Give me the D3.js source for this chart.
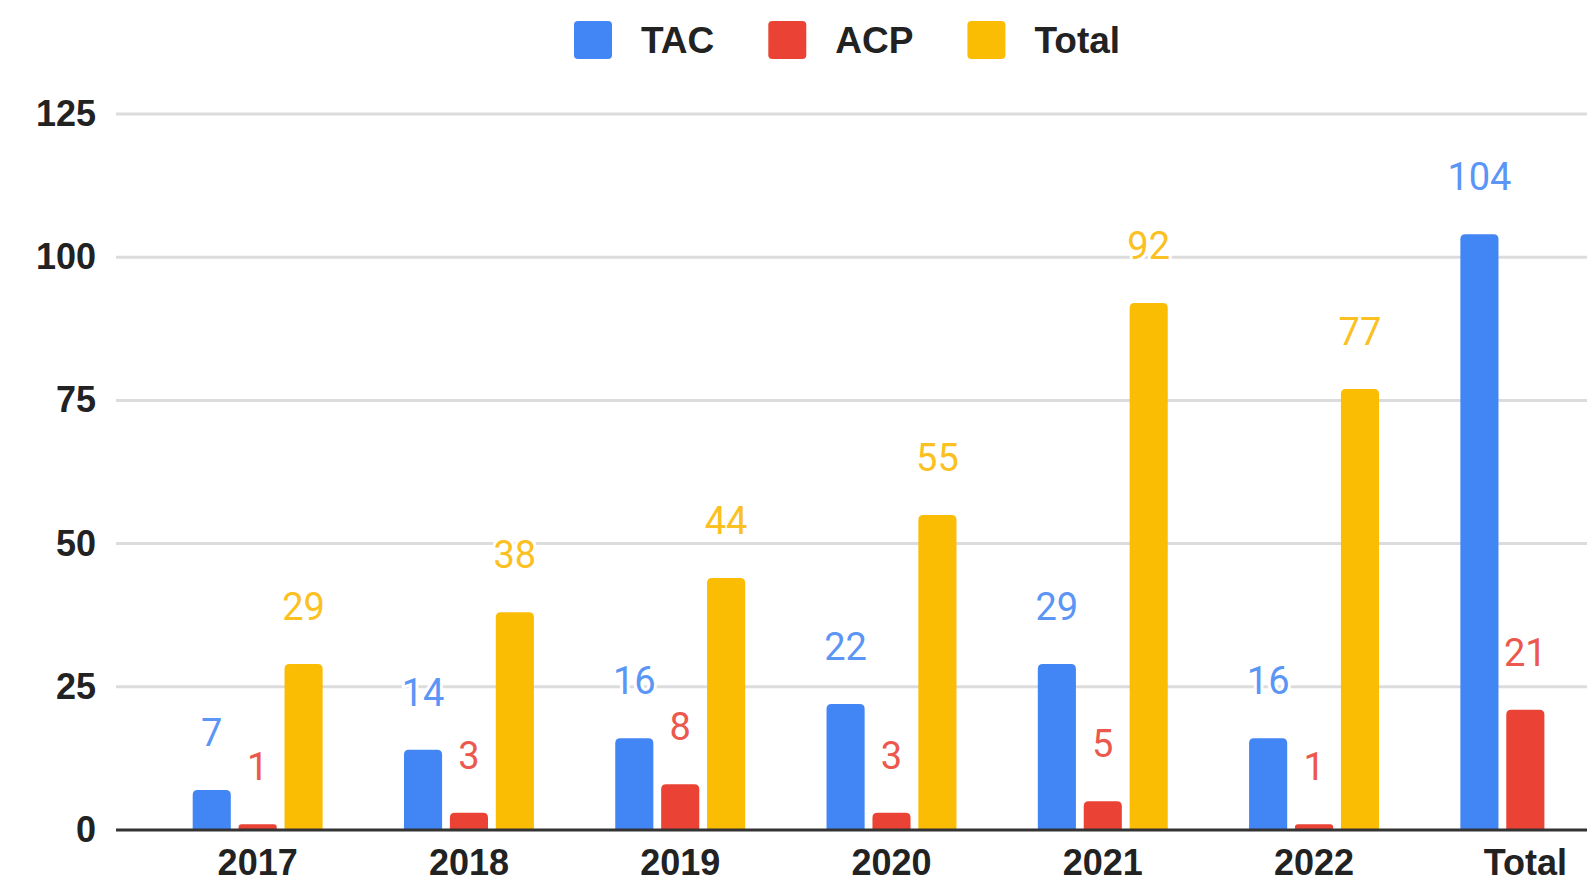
<!DOCTYPE html>
<html>
<head>
<meta charset="utf-8">
<script src="https://cdn.jsdelivr.net/npm/d3@7"></script>
<style>
  body { margin: 0; background: #fff; }
  #chart { width: 1587px; height: 884px; overflow: hidden; }
</style>
</head>
<body>
<div id="chart"></div>
<script>
var width = 1587
var height = 884

// data
const categories = ["2017", "2018", "2019", "2020", "2021", "2022", "Total"]
const seriesNames = ["TAC", "ACP", "Total"]
const tacValues = [7, 14, 16, 22, 29, 16, 104]
const acpValues = [1, 3, 8, 3, 5, 1, 21]
const totalValues = [29, 38, 44, 55, 92, 77, null]
const yTicks = [0, 25, 50, 75, 100, 125]

const colors = ["#4285f4", "#ea4335", "#fbbc04"]
const labelColors = ["#5b95f5", "#ec584d", "#fbc021"]

var series = [tacValues, acpValues, totalValues]

var svg = d3.select("#chart")
    .append("svg")
    .attr("width", width)
    .attr("height", height)
    .style("display", "block")

// plot area runs past the right edge (the source picture is cropped there)
var xScale = d3.scaleBand()
    .domain(categories)
    .range([116, 1667])
    .paddingInner(0.385)
    .paddingOuter(0.363)

var xSub = d3.scaleBand()
    .domain(d3.range(seriesNames.length))
    .range([0, xScale.bandwidth()])
    .paddingInner(0.17)

var yScale = d3.scaleLinear()
    .domain([0, 125])
    .range([830, 114])

// gridlines
svg.append("g")
    .selectAll("line")
    .data(yTicks.filter(d => d > 0))
    .join("line")
    .attr("x1", 116)
    .attr("x2", width)
    .attr("y1", d => yScale(d))
    .attr("y2", d => yScale(d))
    .attr("stroke", "#dcdcdc")
    .attr("stroke-width", 3)

// y axis labels
var yAxis = d3.axisLeft(yScale)
    .tickValues(yTicks)
    .tickSize(0)
    .tickPadding(20)
svg.append("g")
    .attr("transform", "translate(116,0)")
    .call(yAxis)
    .call(g => g.select(".domain").remove())
    .selectAll("text")
    .attr("font-family", "'Liberation Sans', Arial, sans-serif")
    .attr("font-weight", "bold")
    .attr("font-size", 36)
    .attr("fill", "#222")

// rounded-top bar path
function barPath(x, y, w, h) {
    var r = Math.min(5, h / 2, w / 2)
    return "M" + x + "," + (y + h) +
        "V" + (y + r) +
        "Q" + x + "," + y + " " + (x + r) + "," + y +
        "H" + (x + w - r) +
        "Q" + (x + w) + "," + y + " " + (x + w) + "," + (y + r) +
        "V" + (y + h) + "Z"
}

var bars = []
series.forEach(function(vals, s) {
    vals.forEach(function(v, i) {
        if (v == null) return
        bars.push({cat: categories[i], s: s, v: v})
    })
})

svg.append("g")
    .selectAll("path")
    .data(bars)
    .join("path")
    .attr("d", d => barPath(
        xScale(d.cat) + xSub(d.s), yScale(d.v),
        xSub.bandwidth(), yScale(0) - yScale(d.v)))
    .attr("fill", d => colors[d.s])

// baseline
svg.append("line")
    .attr("x1", 116)
    .attr("x2", width)
    .attr("y1", yScale(0))
    .attr("y2", yScale(0))
    .attr("stroke", "#333")
    .attr("stroke-width", 3)

// value labels
svg.append("g")
    .selectAll("text")
    .data(bars)
    .join("text")
    .attr("x", d => xScale(d.cat) + xSub(d.s) + xSub.bandwidth() / 2)
    .attr("y", d => yScale(d.v) - 44)
    .attr("text-anchor", "middle")
    .attr("font-family", "Roboto, 'Noto Sans', sans-serif")
    .attr("font-size", 38)
    .attr("fill", d => labelColors[d.s])
    .attr("stroke", "#fff")
    .attr("stroke-width", 6)
    .attr("paint-order", "stroke")
    .text(d => d.v)

// x axis labels
var xAxis = d3.axisBottom(xScale)
    .tickSize(0)
    .tickPadding(0)
svg.append("g")
    .attr("transform", "translate(0,875)")
    .call(xAxis)
    .call(g => g.select(".domain").remove())
    .selectAll("text")
    .attr("dy", 0)
    .attr("font-family", "'Liberation Sans', Arial, sans-serif")
    .attr("font-weight", "bold")
    .attr("font-size", 36)
    .attr("fill", "#222")

// legend
var legend = svg.append("g")
var lx = 574
seriesNames.forEach(function(name, i) {
    legend.append("rect")
        .attr("x", lx)
        .attr("y", 21)
        .attr("width", 38)
        .attr("height", 38)
        .attr("rx", 4)
        .attr("fill", colors[i])
    var t = legend.append("text")
        .attr("x", lx + 38 + 29)
        .attr("y", 53)
        .attr("font-family", "'Liberation Sans', Arial, sans-serif")
        .attr("font-weight", "bold")
        .attr("font-size", 37)
        .attr("fill", "#222")
        .text(name)
    lx += 38 + 29 + t.node().getComputedTextLength() + 54
})
</script>
</body>
</html>
